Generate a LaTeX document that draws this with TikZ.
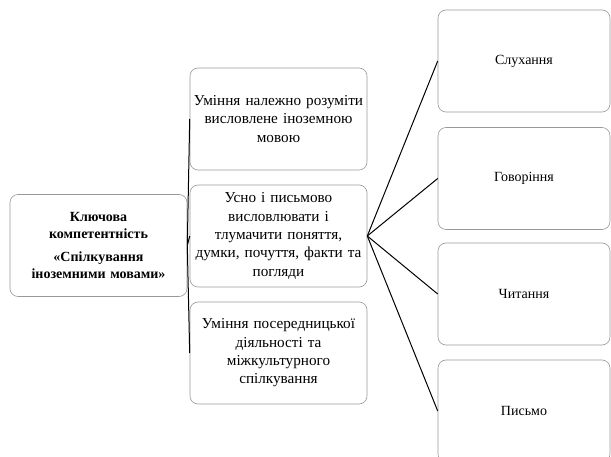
\documentclass[tikz,border=0pt]{standalone}
\usepackage{fontspec}
\setmainfont{Liberation Serif}
\begin{document}
\begin{tikzpicture}[x=1pt,y=-1pt,
    box/.style={draw=gray!80, rounded corners=8pt, line width=0.6pt, inner sep=0pt,
      minimum width=177pt, minimum height=102pt, text width=175pt, align=center,
      font=\fontsize{15.2}{18.3}\selectfont},
    keybox/.style={box, font=\fontsize{14}{17.5}\selectfont\bfseries},
    skill/.style={box, minimum width=172pt, text width=160pt, font=\fontsize{14}{17.5}\selectfont},
    link/.style={line width=1pt}]
  \useasboundingbox (0,0) rectangle (611,457);
  \node[keybox] (key) at (98.5,245.5)
    {Ключова\\компетентність\\[5pt]«Спілкування\\іноземними мовами»};
  \node[box] (m1) at (278.5,119) {Уміння належно розуміти\\висловлене іноземною\\мовою};
  \node[box] (m2) at (278.5,236) {Усно і письмово\\висловлювати і\\тлумачити поняття,\\думки, почуття, факти та\\погляди};
  \node[box] (m3) at (278.5,353) {Уміння посередницької\\діяльності та\\міжкультурного\\спілкування};
  \node[skill] (s1) at (524,61) {Слухання};
  \node[skill] (s2) at (524,178.5) {Говоріння};
  \node[skill] (s3) at (524,294) {Читання};
  \node[skill] (s4) at (524,411) {Письмо};
  \draw[link] (key.east) -- (m1.west);
  \draw[link] (key.east) -- (m2.west);
  \draw[link] (key.east) -- (m3.west);
  \draw[link] (m2.east) -- (s1.west);
  \draw[link] (m2.east) -- (s2.west);
  \draw[link] (m2.east) -- (s3.west);
  \draw[link] (m2.east) -- (s4.west);
\end{tikzpicture}
\end{document}
